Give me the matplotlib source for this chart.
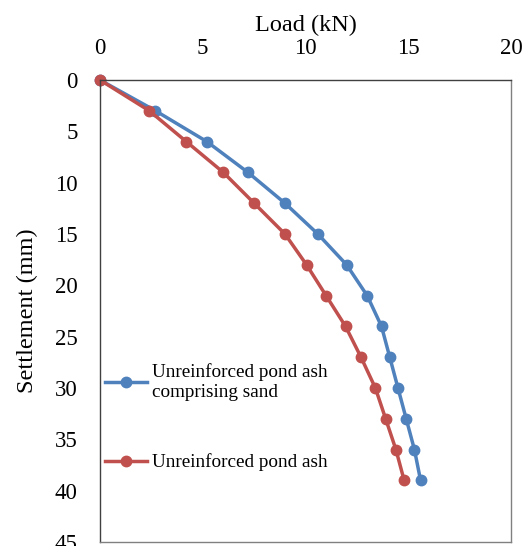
import matplotlib
matplotlib.use("Agg")
from matplotlib import pyplot as plt

plt.rcParams['font.family'] = ['Liberation Serif', 'DejaVu Serif']

settlement = [0, 3, 6, 9, 12, 15, 18, 21, 24, 27, 30, 33, 36, 39]
load_sand = [0, 2.7, 5.2, 7.2, 9.0, 10.6, 12.0, 13.0, 13.7, 14.1, 14.5, 14.9, 15.3, 15.6]
load_ash = [0, 2.4, 4.2, 6.0, 7.5, 9.0, 10.05, 11.0, 11.95, 12.7, 13.4, 13.9, 14.4, 14.8]

blue = '#4F81BD'
red = '#C0504D'

fig = plt.figure(figsize=(5.25, 5.46), dpi=100)
ax = fig.add_axes([100/525, 1-542/546, 411/525, 462/546])

ax.plot(load_sand, settlement, color=blue, lw=2.5, marker='o', ms=7.5,
        label='Unreinforced pond ash\ncomprising sand', clip_on=False)
ax.plot(load_ash, settlement, color=red, lw=2.5, marker='o', ms=7.5,
        label='Unreinforced pond ash', clip_on=False)

ax.set_xlim(0, 20)
ax.set_ylim(45, 0)
ax.set_xticks([0, 5, 10, 15, 20])
ax.set_yticks(range(0, 50, 5))
ax.xaxis.tick_top()
ax.xaxis.set_label_position('top')
ax.tick_params(axis='both', length=0, labelsize=16.5)
ax.tick_params(axis='x', pad=15)
ax.tick_params(axis='y', pad=16)
ax.set_xlabel('Load (kN)', fontsize=17.5, labelpad=5)
ax.set_ylabel('Settlement (mm)', fontsize=17.5, labelpad=12)

for s in ax.spines.values():
    s.set_color('#808080')
    s.set_linewidth(1)
ax.spines['top'].set_color('#404040')
ax.spines['left'].set_color('#404040')

ax.legend(loc='upper left', bbox_to_anchor=(0.012, 0.387), frameon=False,
          fontsize=13.8, handlelength=2.2, handletextpad=0.25, labelspacing=2.75,
          borderpad=0, borderaxespad=0)

fig.savefig('out.png', dpi=100)
